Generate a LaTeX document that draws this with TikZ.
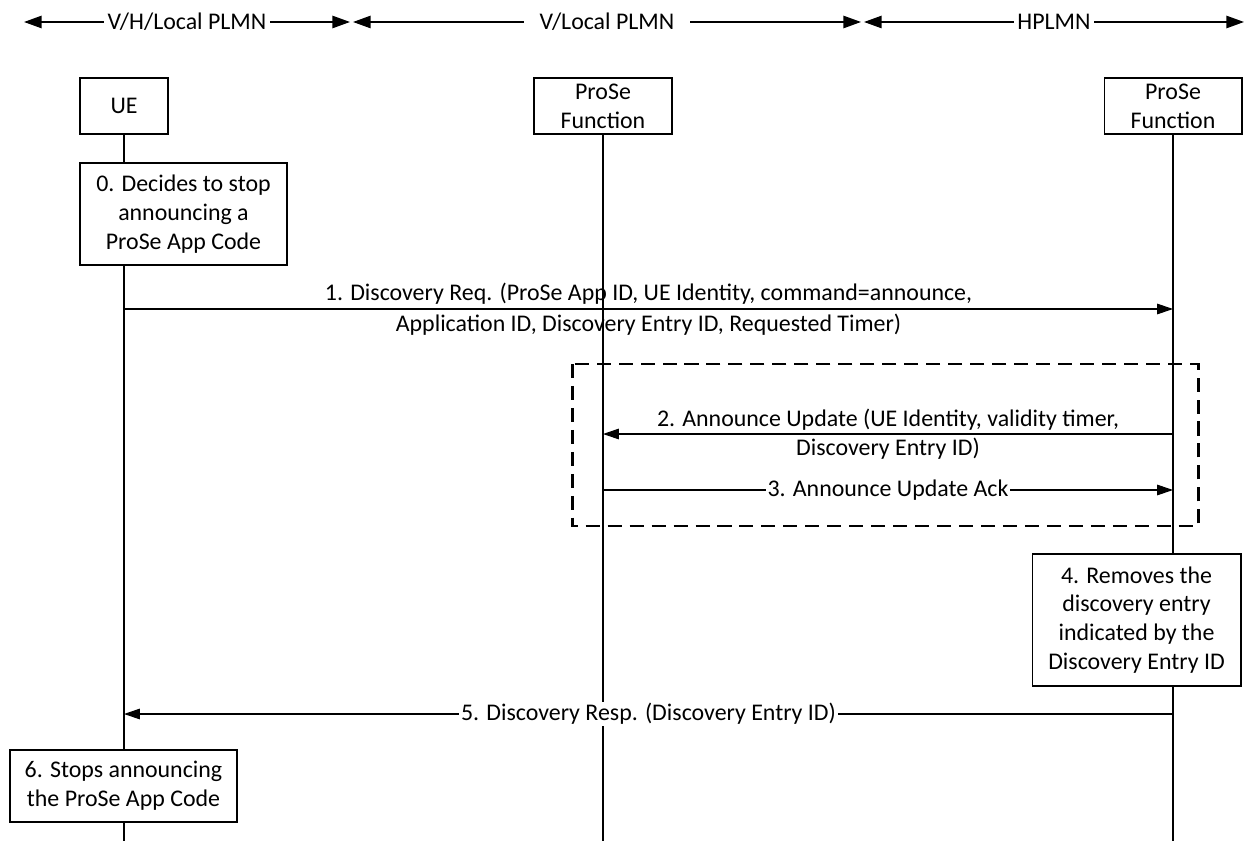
\documentclass[tikz,border=0pt]{standalone}
\usepackage{fontspec}
\setmainfont{Carlito}
\usetikzlibrary{arrows.meta,positioning,calc}
\tikzset{
  ent/.style={draw,fill=white,align=center,line width=0.6pt,minimum width=2.76cm,minimum height=1.12cm,inner sep=1pt,font=\fontsize{13.6}{16.4}\selectfont},
  note/.style={draw,fill=white,align=center,line width=0.6pt,inner sep=1pt,font=\fontsize{13.6}{16.4}\selectfont},
  life/.style={line width=0.6pt},
  msg/.style={-{Triangle[length=9pt,width=6pt]},line width=0.6pt},
  span/.style={{Triangle[length=10pt,width=7pt]}-{Triangle[length=10pt,width=7pt]},line width=0.9pt},
  tag/.style={fill=white,inner sep=2pt,font=\fontsize{13.6}{16.4}\selectfont},
  lbl/.style={fill=white,inner sep=1pt,font=\fontsize{13.6}{16.4}\selectfont},
  twol/.style={align=center,inner sep=0pt,font=\fontsize{13.6}{17.5}\selectfont},
  group/.style={line width=1.7pt,dash pattern=on 8pt off 4.5pt},
}
\begin{document}
\begin{tikzpicture}[x=0.02cm,y=-0.02cm]
  \useasboundingbox (0,0) rectangle (1246,841);
  % network ranges
  \coordinate (h1a) at (24,22);  \coordinate (h1b) at (350,22);
  \coordinate (h2a) at (353,22); \coordinate (h2b) at (861,22);
  \coordinate (h3a) at (864,22); \coordinate (h3b) at (1244,22);
  \draw[span] (h1a) -- node[tag] {V/H/Local PLMN} (h1b);
  \draw[span] (h2a) -- node[tag,inner xsep=9pt] {V/Local PLMN} (h2b);
  \draw[span] (h3a) -- node[tag] {HPLMN} (h3b);
  % entities
  \node[ent,minimum width=1.76cm] (ue) at (124,106) {UE};
  \node[ent] (vpf) at (603,106) {ProSe\\Function};
  \node[ent] (hpf) at (1173,106) {ProSe\\Function};
  \coordinate (bot) at (0,841);
  \foreach \n in {ue,vpf,hpf}
    \draw[life] (\n.south) -- (\n.south |- bot);
  % step boxes
  \node[note,minimum width=4.14cm,minimum height=2.04cm] (s0) at (183.5,214) {0. Decides to stop\\announcing a\\ProSe App Code};
  \node[note,minimum width=4.18cm,minimum height=2.64cm] (s4) at (1136.5,620) {4. Removes the\\discovery entry\\indicated by the\\Discovery Entry ID};
  \node[note,minimum width=4.54cm,minimum height=1.44cm] (s6) at (123.5,786) {6. Stops announcing\\the ProSe App Code};
  % optional part
  \draw[group] (572,364) rectangle (1198,526);
  % messages
  \coordinate (m1) at (0,309);
  \coordinate (m2) at (0,434);
  \coordinate (m3) at (0,490);
  \coordinate (m5) at (0,714);
  \draw[msg] (ue |- m1) -- node[twol] {1. Discovery Req. (ProSe App ID, UE Identity, command=announce,\\Application ID, Discovery Entry ID, Requested Timer)} (hpf |- m1);
  \draw[msg] (hpf |- m2) -- node[twol,font=\fontsize{13.6}{16.4}\selectfont] {2. Announce Update (UE Identity, validity timer,\\Discovery Entry ID)} (vpf |- m2);
  \draw[msg] (vpf |- m3) -- node[lbl] {3. Announce Update Ack} (hpf |- m3);
  \draw[msg] (hpf |- m5) -- node[lbl] {5. Discovery Resp. (Discovery Entry ID)} (ue |- m5);
\end{tikzpicture}
\end{document}
